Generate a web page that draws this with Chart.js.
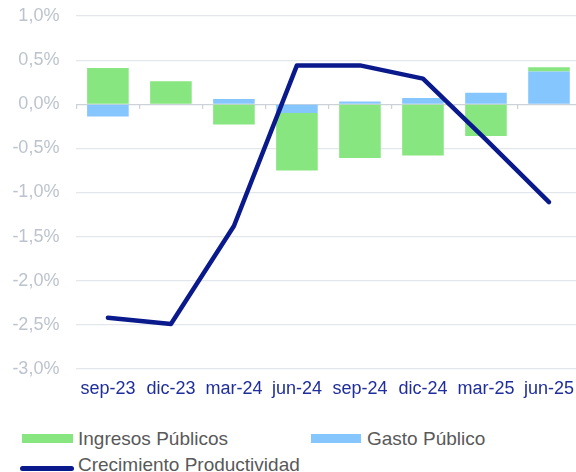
<!DOCTYPE html>
<html>
<head>
<meta charset="utf-8">
<script src="https://cdn.jsdelivr.net/npm/chart.js@4.4.1/dist/chart.umd.min.js"></script>
<style>
  html, body { margin: 0; padding: 0; background: #ffffff; overflow: hidden; width: 576px; height: 472px; }
  #wrap { position: relative; width: 576px; height: 472px; overflow: hidden; }
  #c { position: absolute; left: 0; top: 0; }
  .sw { position: absolute; }
  .lt { position: absolute; font-family: "Liberation Sans", Arial, sans-serif; font-size: 19px; line-height: 19px; color: #595959; white-space: nowrap; }
</style>
</head>
<body>
<div id="wrap">
  <canvas id="c" width="583" height="400" style="width:583px;height:400px"></canvas>
  <div class="sw" style="left:22px;top:434px;width:51px;height:9px;background:#88E680"></div>
  <div class="lt" style="left:78px;top:429px">Ingresos Públicos</div>
  <div class="sw" style="left:311px;top:434px;width:50px;height:9px;background:#85C6FF"></div>
  <div class="lt" style="left:367px;top:429px">Gasto Público</div>
  <div class="sw" style="left:20px;top:466px;width:54px;height:5px;border-radius:3px;background:#0A1A8C"></div>
  <div class="lt" style="left:78px;top:455px">Crecimiento Productividad</div>
</div>
<script>
const categories = ['sep-23', 'dic-23', 'mar-24', 'jun-24', 'sep-24', 'dic-24', 'mar-25', 'jun-25'];
const ingresosPublicos = [0.41, 0.26, -0.23, -0.65, -0.61, -0.58, -0.36, 0.05];
const gastoPublico = [-0.14, 0.0, 0.06, -0.10, 0.03, 0.07, 0.13, 0.37];
const crecimientoProductividad = [-2.42, -2.49, -1.38, 0.44, 0.44, 0.29, -0.40, -1.11];
const yTicks = [-3.0, -2.5, -2.0, -1.5, -1.0, -0.5, 0.0, 0.5, 1.0];

const fmt = v => (Math.abs(v) < 1e-9 ? 0 : v).toFixed(1).replace('.', ',') + '%';

new Chart(document.getElementById('c'), {
  data: {
    labels: categories,
    datasets: [
      {
        type: 'bar', label: 'Gasto Público', data: gastoPublico,
        backgroundColor: '#85C6FF', borderWidth: 0, order: 1,
        barPercentage: 0.66, categoryPercentage: 1.0
      },
      {
        type: 'bar', label: 'Ingresos Públicos', data: ingresosPublicos,
        backgroundColor: '#88E680', borderWidth: 0, order: 1,
        barPercentage: 0.66, categoryPercentage: 1.0
      },
      {
        type: 'line', label: 'Crecimiento Productividad', data: crecimientoProductividad,
        borderColor: '#0A1A8C', backgroundColor: '#0A1A8C', borderWidth: 4.5,
        pointRadius: 0, tension: 0, order: 0, stack: 'line',
        borderCapStyle: 'round', borderJoinStyle: 'round'
      }
    ]
  },
  options: {
    responsive: false,
    animation: false,
    devicePixelRatio: 1,
    layout: { padding: { top: 16, left: 0, right: 0, bottom: 0 } },
    plugins: { legend: { display: false }, tooltip: { enabled: false } },
    scales: {
      x: {
        stacked: true,
        grid: { display: false, drawTicks: false },
        border: { display: false },
        ticks: {
          color: '#1F2E9C', padding: 9, maxRotation: 0, autoSkip: false,
          font: { family: '"Liberation Sans", Arial, sans-serif', size: 18 }
        },
        afterFit: s => { s.height = 31; }
      },
      x2: {
        type: 'category',
        labels: categories,
        offset: true,
        position: { y: 0 },
        grid: { offset: true, drawOnChartArea: false, drawTicks: true, tickLength: 5, color: '#CDD2D9', lineWidth: 1.2 },
        border: { display: false },
        ticks: { display: false }
      },
      y: {
        stacked: true,
        min: -3, max: 1,
        afterBuildTicks: s => { s.ticks = yTicks.map(v => ({ value: v })); },
        grid: {
          color: ctx => (ctx.tick && ctx.tick.value === 0) ? '#CDD2D9' : '#E3E6EA',
          lineWidth: 1.2, drawTicks: false
        },
        border: { display: false },
        ticks: {
          color: '#BDC3CE', padding: 17,
          font: { family: '"Liberation Sans", Arial, sans-serif', size: 18 },
          callback: v => fmt(v)
        },
        afterFit: s => { s.width = 76.4; s.paddingTop = 0; s.paddingBottom = 0; }
      }
    }
  }
});
</script>
</body>
</html>
